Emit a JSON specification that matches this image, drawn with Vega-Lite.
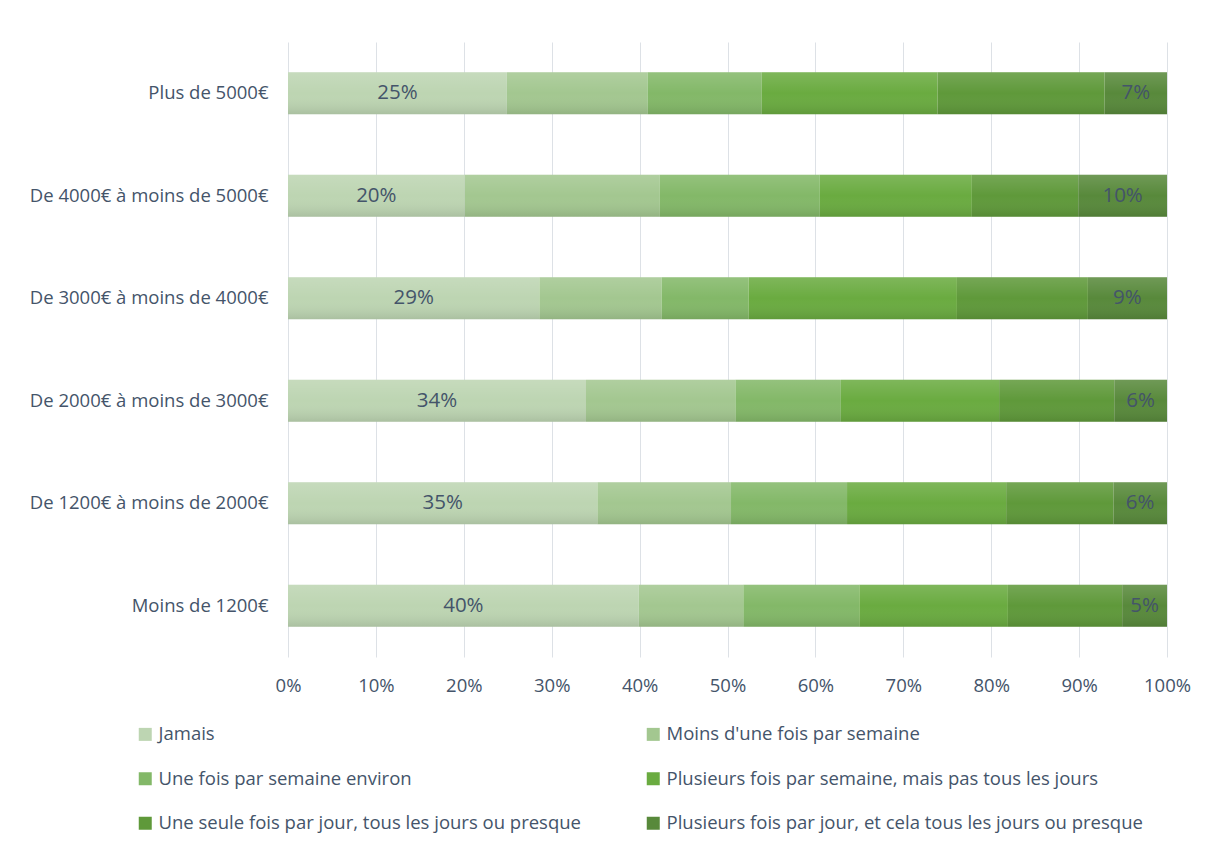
{
  "$schema": "https://vega.github.io/schema/vega-lite/v6.json",
  "width": 879,
  "height": 615,
  "autosize": {"type": "none"},
  "padding": {"left": 288, "top": 42, "right": 39, "bottom": 186},
  "background": "white",
  "config": {"font": "Open Sans", "view": {"stroke": null}},
  "data": {
    "values": [
      {"income": "Plus de 5000€", "freq": "Jamais", "pct": 24.9},
      {"income": "Plus de 5000€", "freq": "Moins d'une fois par semaine", "pct": 16.0},
      {"income": "Plus de 5000€", "freq": "Une fois par semaine environ", "pct": 13.0},
      {"income": "Plus de 5000€", "freq": "Plusieurs fois par semaine, mais pas tous les jours", "pct": 20.0},
      {"income": "Plus de 5000€", "freq": "Une seule fois par jour, tous les jours ou presque", "pct": 19.0},
      {"income": "Plus de 5000€", "freq": "Plusieurs fois par jour, et cela tous les jours ou presque", "pct": 7.1},
      {"income": "De 4000€ à moins de 5000€", "freq": "Jamais", "pct": 20.1},
      {"income": "De 4000€ à moins de 5000€", "freq": "Moins d'une fois par semaine", "pct": 22.2},
      {"income": "De 4000€ à moins de 5000€", "freq": "Une fois par semaine environ", "pct": 18.2},
      {"income": "De 4000€ à moins de 5000€", "freq": "Plusieurs fois par semaine, mais pas tous les jours", "pct": 17.3},
      {"income": "De 4000€ à moins de 5000€", "freq": "Une seule fois par jour, tous les jours ou presque", "pct": 12.1},
      {"income": "De 4000€ à moins de 5000€", "freq": "Plusieurs fois par jour, et cela tous les jours ou presque", "pct": 10.1},
      {"income": "De 3000€ à moins de 4000€", "freq": "Jamais", "pct": 28.6},
      {"income": "De 3000€ à moins de 4000€", "freq": "Moins d'une fois par semaine", "pct": 13.9},
      {"income": "De 3000€ à moins de 4000€", "freq": "Une fois par semaine environ", "pct": 9.9},
      {"income": "De 3000€ à moins de 4000€", "freq": "Plusieurs fois par semaine, mais pas tous les jours", "pct": 23.7},
      {"income": "De 3000€ à moins de 4000€", "freq": "Une seule fois par jour, tous les jours ou presque", "pct": 14.9},
      {"income": "De 3000€ à moins de 4000€", "freq": "Plusieurs fois par jour, et cela tous les jours ou presque", "pct": 9.0},
      {"income": "De 2000€ à moins de 3000€", "freq": "Jamais", "pct": 33.9},
      {"income": "De 2000€ à moins de 3000€", "freq": "Moins d'une fois par semaine", "pct": 17.0},
      {"income": "De 2000€ à moins de 3000€", "freq": "Une fois par semaine environ", "pct": 12.0},
      {"income": "De 2000€ à moins de 3000€", "freq": "Plusieurs fois par semaine, mais pas tous les jours", "pct": 18.0},
      {"income": "De 2000€ à moins de 3000€", "freq": "Une seule fois par jour, tous les jours ou presque", "pct": 13.1},
      {"income": "De 2000€ à moins de 3000€", "freq": "Plusieurs fois par jour, et cela tous les jours ou presque", "pct": 6.0},
      {"income": "De 1200€ à moins de 2000€", "freq": "Jamais", "pct": 35.2},
      {"income": "De 1200€ à moins de 2000€", "freq": "Moins d'une fois par semaine", "pct": 15.2},
      {"income": "De 1200€ à moins de 2000€", "freq": "Une fois par semaine environ", "pct": 13.2},
      {"income": "De 1200€ à moins de 2000€", "freq": "Plusieurs fois par semaine, mais pas tous les jours", "pct": 18.1},
      {"income": "De 1200€ à moins de 2000€", "freq": "Une seule fois par jour, tous les jours ou presque", "pct": 12.2},
      {"income": "De 1200€ à moins de 2000€", "freq": "Plusieurs fois par jour, et cela tous les jours ou presque", "pct": 6.1},
      {"income": "Moins de 1200€", "freq": "Jamais", "pct": 39.9},
      {"income": "Moins de 1200€", "freq": "Moins d'une fois par semaine", "pct": 11.9},
      {"income": "Moins de 1200€", "freq": "Une fois par semaine environ", "pct": 13.2},
      {"income": "Moins de 1200€", "freq": "Plusieurs fois par semaine, mais pas tous les jours", "pct": 16.9},
      {"income": "Moins de 1200€", "freq": "Une seule fois par jour, tous les jours ou presque", "pct": 13.0},
      {"income": "Moins de 1200€", "freq": "Plusieurs fois par jour, et cela tous les jours ou presque", "pct": 5.1}
    ]
  },
  "transform": [
    {"calculate": "indexof(['Jamais', 'Moins d\\'une fois par semaine', 'Une fois par semaine environ', 'Plusieurs fois par semaine, mais pas tous les jours', 'Une seule fois par jour, tous les jours ou presque', 'Plusieurs fois par jour, et cela tous les jours ou presque'], datum.freq)", "as": "order"},
    {"stack": "pct", "groupby": ["income"], "sort": [{"field": "order", "order": "ascending"}], "as": ["x0", "x1"]},
    {"calculate": "(datum.x0 + datum.x1) / 2", "as": "xm"},
    {"calculate": "format(datum.pct / 100, '.0%')", "as": "label"}
  ],
  "encoding": {
    "y": {
      "field": "income",
      "type": "nominal",
      "sort": ["Plus de 5000€", "De 4000€ à moins de 5000€", "De 3000€ à moins de 4000€", "De 2000€ à moins de 3000€", "De 1200€ à moins de 2000€", "Moins de 1200€"],
      "scale": {"paddingInner": 0.59, "paddingOuter": 0.295},
      "axis": {"title": null, "ticks": false, "domain": false, "labelPadding": 20, "labelFontSize": 18.5, "labelColor": "#44546a", "labelFont": "Open Sans", "labelLimit": 400}
    }
  },
  "layer": [
    {
      "mark": {"type": "bar"},
      "encoding": {
        "x": {
          "field": "x0",
          "type": "quantitative",
          "scale": {"domain": [0, 100], "nice": false},
          "axis": {"title": null, "values": [0, 10, 20, 30, 40, 50, 60, 70, 80, 90, 100], "labelExpr": "datum.value + '%'", "labelFlush": false, "ticks": false, "domain": false, "grid": true, "gridColor": "#dde1e6", "gridWidth": 1, "labelPadding": 19, "labelFontSize": 18.5, "labelColor": "#44546a", "labelFont": "Open Sans"}
        },
        "x2": {"field": "x1"},
        "color": {
          "field": "freq",
          "type": "nominal",
          "scale": {
            "domain": ["Jamais", "Moins d'une fois par semaine", "Une fois par semaine environ", "Plusieurs fois par semaine, mais pas tous les jours", "Une seule fois par jour, tous les jours ou presque", "Plusieurs fois par jour, et cela tous les jours ou presque"],
            "range": ["#bdd5b2", "#a3c790", "#83b868", "#6aab40", "#5f993a", "#58893b"]
          },
          "legend": {
            "title": null,
            "orient": "none",
            "legendX": -152,
            "legendY": 683,
            "direction": "horizontal",
            "columns": 2,
            "columnPadding": 63,
            "rowPadding": 25.5,
            "symbolType": "square",
            "symbolSize": 169,
            "symbolStrokeWidth": 0,
            "labelFontSize": 18.5,
            "labelColor": "#44546a",
            "labelFont": "Open Sans",
            "labelOffset": 4,
            "labelLimit": 600
          }
        }
      }
    },
    {
      "mark": {
        "type": "bar",
        "color": {"gradient": "linear", "x1": 0, "y1": 0, "x2": 0, "y2": 1, "stops": [{"offset": 0, "color": "rgba(255,255,255,0.14)"}, {"offset": 0.5, "color": "rgba(255,255,255,0)"}, {"offset": 1, "color": "rgba(0,0,0,0.1)"}]}
      },
      "encoding": {
        "x": {"field": "x0", "type": "quantitative"},
        "x2": {"field": "x1"}
      }
    },
    {
      "transform": [{"filter": "datum.order == 0 || datum.order == 5"}],
      "mark": {"type": "text", "fontSize": 20.5, "color": "#44546a", "font": "Open Sans"},
      "encoding": {
        "x": {"field": "xm", "type": "quantitative"},
        "text": {"field": "label"}
      }
    }
  ]
}
